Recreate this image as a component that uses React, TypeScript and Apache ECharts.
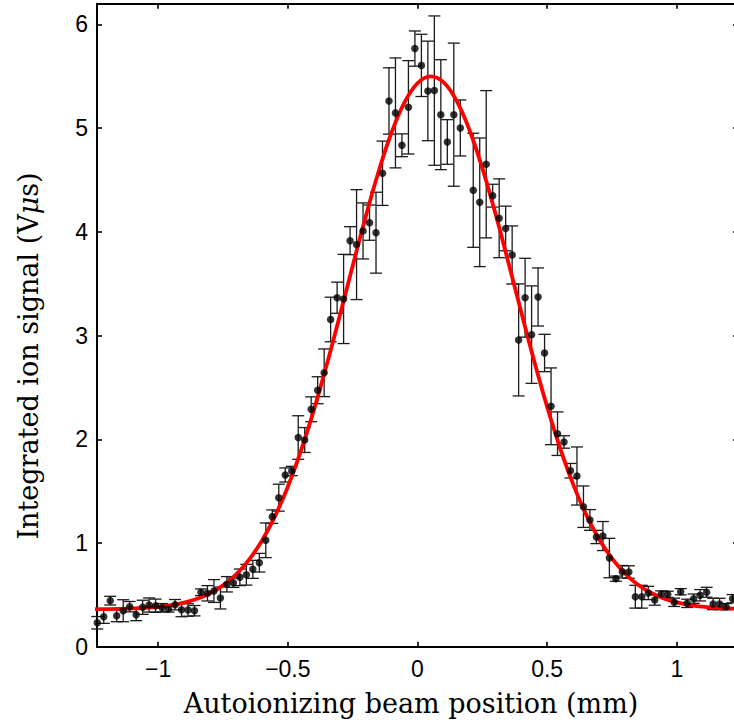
import React, { useEffect, useRef } from "react";
import * as echarts from "echarts";

// Beam positions (mm)
const positions = [
  -1.235, -1.21, -1.185, -1.16, -1.135, -1.11, -1.085, -1.06, -1.035, -1.01,
  -0.985, -0.96, -0.935, -0.91, -0.885, -0.86, -0.835, -0.81, -0.785, -0.76,
  -0.735, -0.71, -0.685, -0.66, -0.635, -0.61, -0.585, -0.56, -0.535, -0.51,
  -0.485, -0.46, -0.435, -0.41, -0.385, -0.36, -0.335, -0.31, -0.285, -0.26,
  -0.235, -0.21, -0.185, -0.16, -0.135, -0.11, -0.085, -0.06, -0.035, -0.01,
  0.015, 0.04, 0.065, 0.09, 0.115, 0.14, 0.165, 0.215, 0.24, 0.265,
  0.29, 0.315, 0.34, 0.365, 0.39, 0.415, 0.44, 0.465, 0.49, 0.515,
  0.54, 0.565, 0.59, 0.615, 0.64, 0.665, 0.69, 0.715, 0.74, 0.765,
  0.79, 0.815, 0.84, 0.865, 0.89, 0.915, 0.94, 0.965, 0.99, 1.015,
  1.04, 1.065, 1.09, 1.115, 1.14, 1.165, 1.19, 1.215,
];

// Integrated ion signal (V µs)
const signal = [
  0.231, 0.289, 0.444, 0.299, 0.347, 0.386, 0.309, 0.38, 0.402, 0.395,
  0.376, 0.364, 0.405, 0.357, 0.354, 0.347, 0.525, 0.515, 0.537, 0.47,
  0.602, 0.617, 0.669, 0.694, 0.746, 0.81, 1.026, 1.254, 1.437, 1.656,
  1.694, 2.017, 1.993, 2.289, 2.473, 2.641, 3.155, 3.365, 3.353, 3.915,
  3.877, 4.009, 4.089, 3.992, 4.565, 5.262, 5.147, 4.835, 5.201, 5.767,
  5.605, 5.359, 5.362, 5.13, 4.867, 5.13, 5.002, 4.401, 4.285, 4.652,
  4.349, 4.131, 4.033, 3.777, 2.958, 3.365, 3.009, 3.372, 2.832, 2.318,
  2.054, 1.974, 1.697, 1.646, 1.35, 1.222, 1.058, 1.067, 0.855, 0.656,
  0.723, 0.72, 0.482, 0.482, 0.518, 0.45, 0.508, 0.505, 0.428, 0.53,
  0.418, 0.463, 0.496, 0.525, 0.412, 0.412, 0.386, 0.463,
];

// Error bar half-lengths
const errors = [
  0.06, 0.064, 0.042, 0.058, 0.106, 0.05, 0.058, 0.068, 0.068, 0.064,
  0.04, 0.03, 0.05, 0.068, 0.06, 0.05, 0.032, 0.074, 0.11, 0.106,
  0.074, 0.045, 0.08, 0.1, 0.087, 0.09, 0.167, 0.065, 0.13, 0.068,
  0.045, 0.21, 0.12, 0.12, 0.13, 0.23, 0.215, 0.15, 0.43, 0.135,
  0.53, 0.27, 0.17, 0.39, 0.31, 0.32, 0.53, 0.11, 0.45, 0.17,
  0.3, 0.48, 0.72, 0.53, 0.215, 0.69, 0.27, 0.55, 0.62, 0.71,
  0.11, 0.38, 0.215, 0.28, 0.54, 0.38, 0.47, 0.28, 0.18, 0.37,
  0.21, 0.06, 0.07, 0.28, 0.2, 0.1, 0.064, 0.14, 0.19, 0.025,
  0.06, 0.06, 0.11, 0.11, 0.064, 0.05, 0.03, 0.03, 0.04, 0.03,
  0.04, 0.045, 0.055, 0.048, 0.055, 0.055, 0.03, 0.04,
];

// Fitted curve
const fitX = [
  -1.25, -1.2, -1.15, -1.1, -1.05, -1.0, -0.95, -0.9, -0.85, -0.8,
  -0.75, -0.7, -0.65, -0.6, -0.55, -0.5, -0.45, -0.4, -0.35, -0.3,
  -0.25, -0.2, -0.15, -0.1, -0.05, 0.0, 0.05, 0.1, 0.15, 0.2,
  0.25, 0.3, 0.35, 0.4, 0.45, 0.5, 0.55, 0.6, 0.65, 0.7,
  0.75, 0.8, 0.85, 0.9, 0.95, 1.0, 1.05, 1.1, 1.15, 1.2, 1.25,
];
const fitY = [
  0.362, 0.363, 0.365, 0.369, 0.375, 0.385, 0.401, 0.425, 0.462, 0.515,
  0.591, 0.696, 0.837, 1.022, 1.256, 1.543, 1.885, 2.279, 2.718, 3.189,
  3.672, 4.144, 4.582, 4.958, 5.249, 5.433, 5.5, 5.443, 5.268, 4.985,
  4.615, 4.181, 3.71, 3.227, 2.755, 2.313, 1.915, 1.568, 1.276, 1.038,
  0.851, 0.706, 0.598, 0.52, 0.465, 0.427, 0.402, 0.386, 0.375, 0.369, 0.365,
];

const xTicks = [-1, -0.5, 0, 0.5, 1];
const yTicks = [0, 1, 2, 3, 4, 5, 6];

const xTitle = "Autoionizing beam position (mm)";
const yTitle = "Integrated ion signal (V{i|μ}s)";

const TICK_FONT = "'Liberation Sans', Arial, sans-serif";
const TITLE_FONT = "'DejaVu Serif', serif";

const fmt = (v: number) => (v < 0 ? "\u2212" + String(Math.abs(v)) : String(v));

export default function App() {
  const ref = useRef<HTMLDivElement>(null);

  useEffect(() => {
    if (!ref.current) return;
    const chart = echarts.init(ref.current, undefined, { renderer: "svg" });

    const axisLine = { show: true, onZero: false, lineStyle: { color: "#000", width: 2 } };
    const tickStyle = { color: "#000", width: 1.6 };

    const option: any = {
      animation: false,
      backgroundColor: "#fff",
      grid: { left: 97, right: 4, top: 3.7, bottom: 77.3, containLabel: false },
      xAxis: [
        {
          type: "value",
          min: -1.236,
          max: 1.236,
          position: "bottom",
          axisLine,
          axisTick: { show: true, inside: true, length: 5, customValues: xTicks, lineStyle: tickStyle },
          axisLabel: {
            show: true,
            customValues: xTicks,
            formatter: fmt,
            fontFamily: TICK_FONT,
            fontSize: 23,
            color: "#000",
            margin: 11,
          },
          splitLine: { show: false },
        },
        {
          type: "value",
          min: -1.236,
          max: 1.236,
          position: "top",
          axisLine,
          axisTick: { show: true, inside: true, length: 5, customValues: xTicks, lineStyle: tickStyle },
          axisLabel: { show: false },
          splitLine: { show: false },
        },
      ],
      yAxis: [
        {
          type: "value",
          min: 0,
          max: 6.2,
          position: "left",
          axisLine,
          axisTick: { show: true, inside: true, length: 5, customValues: yTicks, lineStyle: tickStyle },
          axisLabel: {
            show: true,
            customValues: yTicks,
            formatter: fmt,
            fontFamily: TICK_FONT,
            fontSize: 23,
            color: "#000",
            margin: 9,
          },
          splitLine: { show: false },
        },
        {
          type: "value",
          min: 0,
          max: 6.2,
          position: "right",
          axisLine,
          axisTick: { show: true, inside: true, length: 5, customValues: yTicks, lineStyle: tickStyle },
          axisLabel: { show: false },
          splitLine: { show: false },
        },
      ],
      graphic: [
        {
          type: "text",
          x: 411,
          y: 703,
          style: {
            text: xTitle,
            fontFamily: TITLE_FONT,
            fontSize: 27,
            fill: "#000",
            textAlign: "center",
            textVerticalAlign: "middle",
          },
        },
        {
          type: "text",
          x: 28,
          y: 356,
          rotation: Math.PI / 2,
          style: {
            text: yTitle,
            fontFamily: TITLE_FONT,
            fontSize: 27,
            fill: "#000",
            textAlign: "center",
            textVerticalAlign: "middle",
            rich: {
              i: { fontFamily: TITLE_FONT, fontSize: 27, fontStyle: "italic", fill: "#000" },
            },
          },
        },
      ],
      series: [
        {
          type: "custom",
          xAxisIndex: 0,
          yAxisIndex: 0,
          clip: false,
          z: 1,
          encode: { x: 0, y: [1, 2] },
          data: positions.map((x, i) => [x, signal[i] - errors[i], signal[i] + errors[i]]),
          renderItem: (params: any, api: any) => {
            const x = api.value(0);
            const lo = api.coord([x, api.value(1)]);
            const hi = api.coord([x, api.value(2)]);
            const hw = 6;
            const style = { stroke: "#1a1a1a", lineWidth: 1.3, fill: null };
            return {
              type: "group",
              children: [
                { type: "line", shape: { x1: lo[0], y1: lo[1], x2: hi[0], y2: hi[1] }, style },
                { type: "line", shape: { x1: lo[0] - hw, y1: lo[1], x2: lo[0] + hw, y2: lo[1] }, style },
                { type: "line", shape: { x1: hi[0] - hw, y1: hi[1], x2: hi[0] + hw, y2: hi[1] }, style },
              ],
            };
          },
        },
        {
          type: "line",
          xAxisIndex: 0,
          yAxisIndex: 0,
          z: 2,
          smooth: 0.4,
          showSymbol: false,
          symbol: "none",
          lineStyle: { color: "#ff0000", width: 3.8 },
          data: fitX.map((x, i) => [x, fitY[i]]),
        },
        {
          type: "scatter",
          xAxisIndex: 0,
          yAxisIndex: 0,
          z: 3,
          clip: false,
          symbol: "circle",
          symbolSize: 7.5,
          itemStyle: { color: "#000" },
          data: positions.map((x, i) => [x, signal[i]]),
        },
      ],
    };

    chart.setOption(option);
    return () => chart.dispose();
  }, []);

  return (
    <div
      style={{
        position: "fixed",
        left: 0,
        top: 0,
        width: 734,
        height: 724,
        overflow: "hidden",
        background: "#fff",
      }}
    >
      <div ref={ref} style={{ width: 742, height: 724 }} />
    </div>
  );
}
